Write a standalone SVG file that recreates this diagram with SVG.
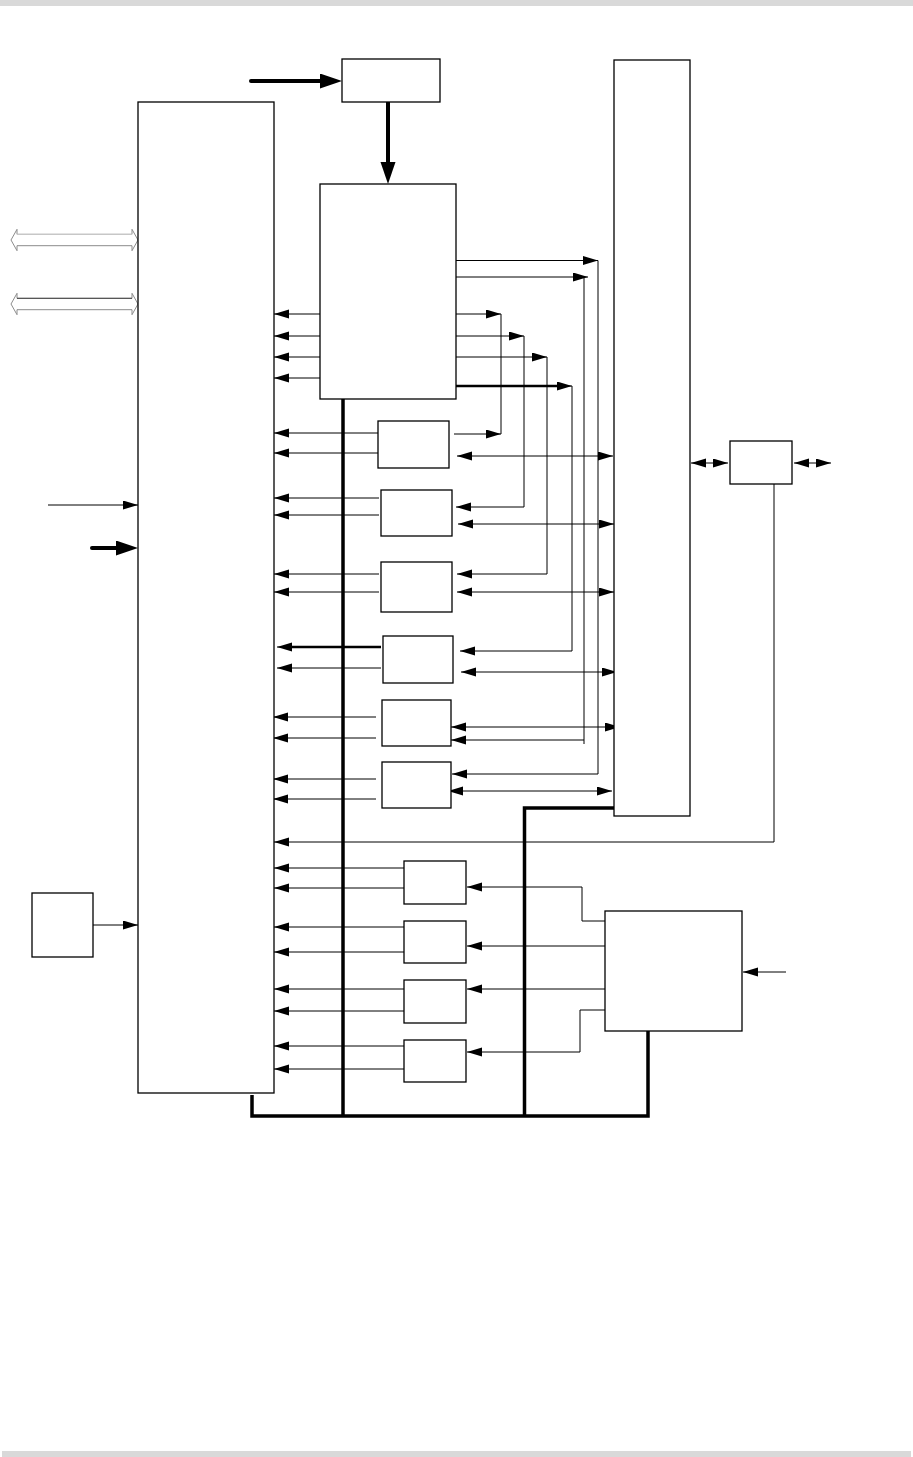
<svg xmlns="http://www.w3.org/2000/svg" width="913" height="1457" viewBox="0 0 913 1457">
<style>
.box{fill:#fff;stroke:#000;stroke-width:1.3}
.ln{fill:none;stroke:#000;stroke-width:1}
.a{marker-end:url(#ah)}
.d{marker-start:url(#ah);marker-end:url(#ah)}
.thk{fill:none;stroke:#000;stroke-width:3.5}
.mid{fill:none;stroke:#000;stroke-width:2.5}
.big{fill:none;stroke:#000;stroke-width:4;stroke-linecap:round;marker-end:url(#ahb)}
.hol{fill:#fff;stroke:#8c8c8c;stroke-width:1}
</style>
<defs>
<marker id="ah" markerUnits="userSpaceOnUse" markerWidth="16" markerHeight="10" refX="15" refY="4.5" orient="auto-start-reverse"><path d="M0,0 L15,4.5 L0,9 z" fill="#000"/></marker>
<marker id="ahb" markerUnits="userSpaceOnUse" markerWidth="23" markerHeight="16" refX="0" refY="7.5" orient="auto"><path d="M0,0 L22,7.5 L0,15 z" fill="#000"/></marker>
</defs>
<rect x="0" y="0" width="913" height="6" fill="#d9d9d9"/>
<rect x="2" y="1451" width="909" height="6" fill="#d9d9d9"/>

<g id="connectors">
<!-- bus -->
<path class="thk" d="M343,399 V1116"/>
<path class="thk" d="M252,1095 V1116 H648 V1031"/>
<path class="thk" d="M615,808 H524.5 V1116"/>
<!-- top inputs -->
<path class="big" d="M251,81 H320"/>
<path class="big" d="M388,102 V162"/>
<path class="big" d="M92,548 H116"/>
<path class="ln a" d="M48,505 H138"/>
<path class="ln a" d="M93,925 H138"/>
<!-- hollow bus arrows -->
<polygon class="hol" points="11,240 17,229.3 17,234.3 132,234.3 132,229.3 138,240 132,250.7 132,245.7 17,245.7 17,250.7"/>
<line x1="17" y1="234.3" x2="132" y2="234.3" stroke="#d0d0d0" stroke-width="1"/>
<polygon class="hol" points="11,304 17,293.3 17,298.3 132,298.3 132,293.3 138,304 132,314.7 132,309.7 17,309.7 17,314.7"/>
<line x1="17" y1="298.3" x2="132" y2="298.3" stroke="#444" stroke-width="1"/>
<!-- center box to main -->
<path class="ln a" d="M320,314 H274"/>
<path class="ln a" d="M320,336 H274"/>
<path class="ln a" d="M320,357 H274"/>
<path class="ln a" d="M320,378 H274"/>
<!-- center box right outputs -->
<path class="ln a" d="M456,260.5 H598"/>
<path class="ln a" d="M598,260.5 V774 H452"/>
<path class="ln a" d="M456,277 H588"/>
<path class="ln" d="M584,277 V744"/>
<path class="ln a" d="M584,740 H451"/>
<path class="ln a" d="M456,314 H501"/>
<path class="ln" d="M501,314 V434"/>
<path class="ln a" d="M454,434 H501"/>
<path class="ln a" d="M456,336 H524"/>
<path class="ln a" d="M524,336 V507 H456"/>
<path class="ln a" d="M454,357 H547"/>
<path class="ln a" d="M547,357 V574 H457"/>
<path class="mid" d="M456,386 H558" />
<path class="ln a" d="M556,386 H572"/>
<path class="ln a" d="M572,386 V651 H460"/>
<!-- box A -->
<path class="ln a" d="M378,433 H274"/>
<path class="ln a" d="M378,453 H274"/>
<path class="ln d" d="M457,456 H613"/>
<!-- box B -->
<path class="ln a" d="M379,498 H274"/>
<path class="ln a" d="M379,515 H274"/>
<path class="ln d" d="M458,524 H614"/>
<!-- box C -->
<path class="ln a" d="M379,574 H274"/>
<path class="ln a" d="M379,592 H274"/>
<path class="ln d" d="M457,592 H614"/>
<!-- box D -->
<path class="mid" d="M381,647 H290"/>
<path class="ln a" d="M292,647 H277"/>
<path class="ln a" d="M381,668 H277"/>
<path class="ln d" d="M461,672 H617"/>
<!-- box E -->
<path class="ln a" d="M376,717 H273"/>
<path class="ln a" d="M376,738 H273"/>
<path class="ln d" d="M451,727 H620"/>
<!-- box F -->
<path class="ln a" d="M376,779 H273"/>
<path class="ln a" d="M376,799 H273"/>
<path class="ln d" d="M448,791 H612"/>
<!-- small right box -->
<path class="ln d" d="M691,463 H728"/>
<path class="ln d" d="M794,463 H831"/>
<path class="ln a" d="M774,484 V842 H274"/>
<!-- lower boxes -->
<path class="ln a" d="M404,868 H274"/>
<path class="ln a" d="M404,888 H274"/>
<path class="ln a" d="M605,921 H582 V887 H467"/>
<path class="ln a" d="M404,927 H274"/>
<path class="ln a" d="M404,952 H274"/>
<path class="ln a" d="M605,946 H467"/>
<path class="ln a" d="M404,989 H274"/>
<path class="ln a" d="M404,1011 H274"/>
<path class="ln a" d="M605,989 H467"/>
<path class="ln a" d="M404,1046 H274"/>
<path class="ln a" d="M404,1069 H274"/>
<path class="ln a" d="M605,1010 H580 V1052 H467"/>
<path class="ln a" d="M786,972 H743"/>
</g>

<g id="main"><rect class="box" x="138" y="102" width="136" height="991"/></g>
<g id="top"><rect class="box" x="342" y="59" width="98" height="43"/></g>
<g id="center"><rect class="box" x="320" y="184" width="136" height="215"/></g>
<g id="tall"><rect class="box" x="614" y="60" width="76" height="756"/></g>
<g id="right-small"><rect class="box" x="730" y="441" width="62" height="43"/></g>
<g id="boxA"><rect class="box" x="378" y="421" width="71" height="47"/></g>
<g id="boxB"><rect class="box" x="381" y="490" width="71" height="46"/></g>
<g id="boxC"><rect class="box" x="381" y="562" width="71" height="50"/></g>
<g id="boxD"><rect class="box" x="383" y="636" width="70" height="47"/></g>
<g id="boxE"><rect class="box" x="382" y="700" width="69" height="46"/></g>
<g id="boxF"><rect class="box" x="382" y="762" width="69" height="46"/></g>
<g id="boxG"><rect class="box" x="404" y="861" width="62" height="43"/></g>
<g id="boxI"><rect class="box" x="404" y="921" width="62" height="42"/></g>
<g id="boxJ"><rect class="box" x="404" y="980" width="62" height="43"/></g>
<g id="boxK"><rect class="box" x="404" y="1040" width="62" height="42"/></g>
<g id="boxH"><rect class="box" x="605" y="911" width="137" height="120"/></g>
<g id="boxL"><rect class="box" x="32" y="893" width="61" height="64"/></g>
</svg>
